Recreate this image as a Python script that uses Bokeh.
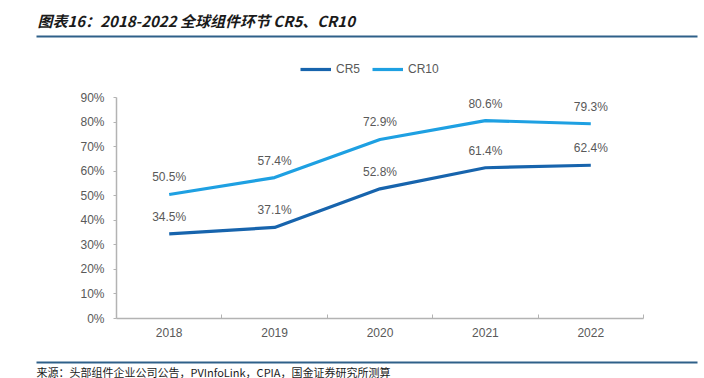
from bokeh.plotting import figure
from bokeh.models import (Range1d, FixedTicker, PrintfTickFormatter, Label, BoxAnnotation,
                          Legend, LegendItem, ColumnDataSource)
from bokeh.core.properties import value
from bokeh.embed import file_html
from bokeh.resources import INLINE

years = [2018, 2019, 2020, 2021, 2022]
cr5 = [34.5, 37.1, 52.8, 61.4, 62.4]
cr10 = [50.5, 57.4, 72.9, 80.6, 79.3]
y_ticks = [0, 10, 20, 30, 40, 50, 60, 70, 80, 90]
series_names = ["CR5", "CR10"]
title_text = "图表16：2018-2022 全球组件环节 CR5、CR10"
source_text = "来源：头部组件企业公司公告，PVInfoLink，CPIA，国金证券研究所测算"

C5 = "#1764AD"
C10 = "#1EA0E2"
GRAY = "#595959"
AX = "#B3B3B3"
RULE = "#2F6089"
FONT = "Liberation Sans"
CJK = "Noto Sans CJK SC"

W, H = 704, 378
# plot-area geometry in page pixels
PL, PR, PT, PB = 116, 643, 97, 318
x0, x1 = years[0] - 0.5, years[-1] + 0.5
y0, y1 = y_ticks[0], y_ticks[-1]
kx = (PR - PL) / (x1 - x0)
ky = (PB - PT) / (y1 - y0)
xr = Range1d(x0 - PL / kx, x1 + (W - PR) / kx)
yr = Range1d(y0 - (H - PB) / ky, y1 + PT / ky)

p = figure(width=W, height=H, output_backend="svg", toolbar_location=None,
           x_range=xr, y_range=yr, min_border=0, min_border_left=0,
           min_border_right=0, min_border_top=0, min_border_bottom=0)
p.outline_line_color = None
p.grid.visible = False
p.background_fill_color = "white"
p.border_fill_color = "white"

xa = p.xaxis[0]
xa.fixed_location = y0
xa.bounds = (x0, x1)
xa.ticker = FixedTicker(ticks=years, minor_ticks=[y + 0.5 for y in years])
xa.major_tick_line_color = None
xa.minor_tick_in = 4
xa.minor_tick_out = 0
xa.minor_tick_line_color = AX
xa.axis_line_color = AX
xa.axis_line_width = 1.5
xa.major_label_standoff = 3
xa.major_label_text_font = FONT
xa.major_label_text_font_size = "12px"
xa.major_label_text_color = GRAY

ya = p.yaxis[0]
ya.fixed_location = x0
ya.bounds = (y0, y1)
ya.ticker = FixedTicker(ticks=y_ticks)
ya.formatter = PrintfTickFormatter(format="%d%%")
ya.minor_tick_line_color = None
ya.major_tick_in = 0
ya.major_tick_out = 3
ya.major_tick_line_color = AX
ya.axis_line_color = AX
ya.axis_line_width = 1.5
ya.major_label_standoff = 9
ya.major_label_text_font = FONT
ya.major_label_text_font_size = "12px"
ya.major_label_text_color = GRAY

src = ColumnDataSource(dict(x=years, cr5=cr5, cr10=cr10,
                            l5=[f"{v:.1f}%" for v in cr5],
                            l10=[f"{v:.1f}%" for v in cr10]))

r5 = p.line("x", "cr5", source=src, line_color=C5, line_width=3.2)
r10 = p.line("x", "cr10", source=src, line_color=C10, line_width=3.2)

for col, ycol in (("l5", "cr5"), ("l10", "cr10")):
    p.text("x", ycol, text=col, source=src, y_offset=-17, text_align="center",
           text_baseline="middle", text_font=value(FONT), text_font_size="12px",
           text_color=GRAY)

legend = Legend(items=[LegendItem(label=series_names[0], renderers=[r5]),
                       LegendItem(label=series_names[1], renderers=[r10])],
                orientation="horizontal", location=(300, H - 76),
                border_line_color=None, background_fill_alpha=0,
                padding=0, margin=0, spacing=12, glyph_width=31, glyph_height=14,
                label_standoff=5, label_text_font=FONT, label_text_font_size="12px",
                label_text_color=GRAY, label_height=14)
p.add_layout(legend, "center")

# header / footer (screen units: x from left edge, y from bottom edge)
p.add_layout(Label(x=37, y=H - 20, x_units="screen", y_units="screen",
                   text=title_text, text_font=CJK,
                   text_font_style="bold italic", text_font_size="15px",
                   text_color="#1A1A1A", text_baseline="middle", text_align="left"))
for top in (35, 361):
    p.add_layout(BoxAnnotation(left=36, right=697, top=H - top, bottom=H - top - 2,
                               left_units="screen", right_units="screen",
                               top_units="screen", bottom_units="screen",
                               fill_color=RULE, fill_alpha=1, line_color=None))
p.add_layout(Label(x=36, y=H - 371, x_units="screen", y_units="screen",
                   text=source_text, text_font=CJK,
                   text_font_size="11px", text_color="#1A1A1A",
                   text_baseline="middle", text_align="left"))

open("out.html", "w").write(file_html(p, INLINE))
